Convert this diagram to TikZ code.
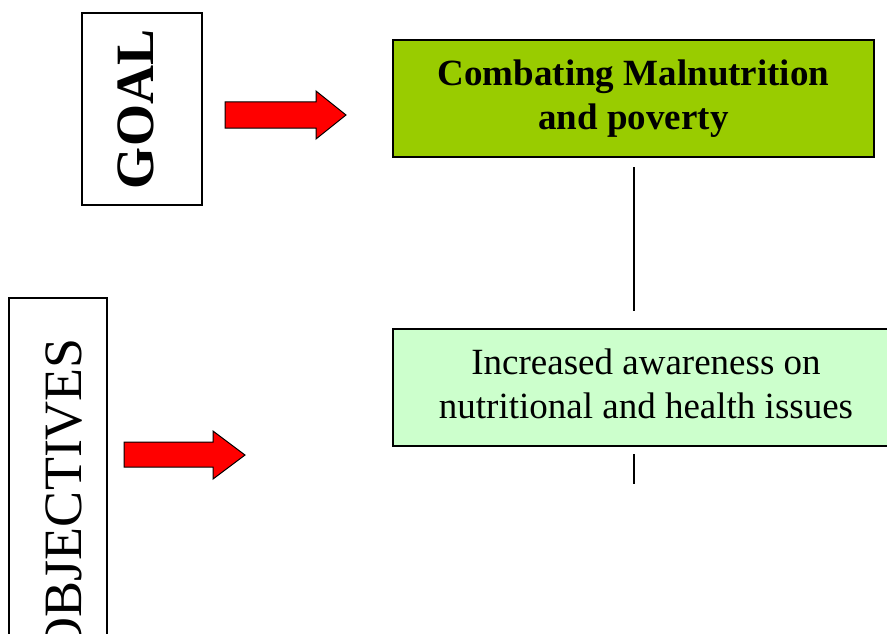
\documentclass[tikz,border=0pt]{standalone}
\usepackage{fontspec}
\setmainfont{Liberation Serif}
\definecolor{goalgreen}{HTML}{99CC00}
\definecolor{objgreen}{HTML}{CCFFCC}
\definecolor{arrowred}{HTML}{FF0000}
\tikzset{
  framebox/.style={draw=black, line width=1.5pt, rectangle, inner sep=0pt},
  bigarrow/.style={draw=black, line width=1pt, fill=arrowred, line join=miter},
  linkline/.style={draw=black, line width=1.5pt},
  boxtext/.style={align=center, inner sep=0pt, font=\fontsize{37}{44}\selectfont},
  sidelabel/.style={rotate=90, anchor=base, inner sep=0pt}
}
\begin{document}
\begin{tikzpicture}[x=1pt,y=-1pt]
\useasboundingbox (0,0) rectangle (887,634);
\clip (0,0) rectangle (887,634);
% GOAL side box
\node[framebox, minimum width=120pt, minimum height=192pt] (goalbox) at (142,109) {};
\node[sidelabel, font=\fontsize{54}{60}\selectfont\bfseries] (goallabel) at (153,109.5) {GOAL};
% OBJECTIVES side box
\node[framebox, minimum width=98pt, minimum height=402pt] (objbox) at (58,499) {};
\node[sidelabel, font=\fontsize{54}{60}\selectfont] (objlabel) at (81,497) {OBJECTIVES};
% red arrows
\path[bigarrow] (225,102) -- (316,102) -- (316,91) -- (346,115) -- (316,139) -- (316,128) -- (225,128) -- cycle;
\path[bigarrow] (124,442) -- (213,442) -- (213,431) -- (245,455) -- (213,479) -- (213,467) -- (124,467) -- cycle;
% main boxes
\node[framebox, fill=goalgreen, minimum width=481pt, minimum height=117pt, boxtext] (goal) at (633.5,98.5)
  {\bfseries Combating Malnutrition\strut\\\bfseries and poverty\strut};
\node[framebox, fill=objgreen, minimum width=506pt, minimum height=117pt, boxtext] (obj) at (646,387.5)
  {Increased awareness on\strut\\nutritional and health issues\strut};
% connectors
\coordinate (c1) at (634,167);
\coordinate (c2) at (634,311);
\coordinate (c3) at (634,454);
\coordinate (c4) at (634,484);
\draw[linkline] (c1) -- (c2);
\draw[linkline] (c3) -- (c4);
\end{tikzpicture}
\end{document}
